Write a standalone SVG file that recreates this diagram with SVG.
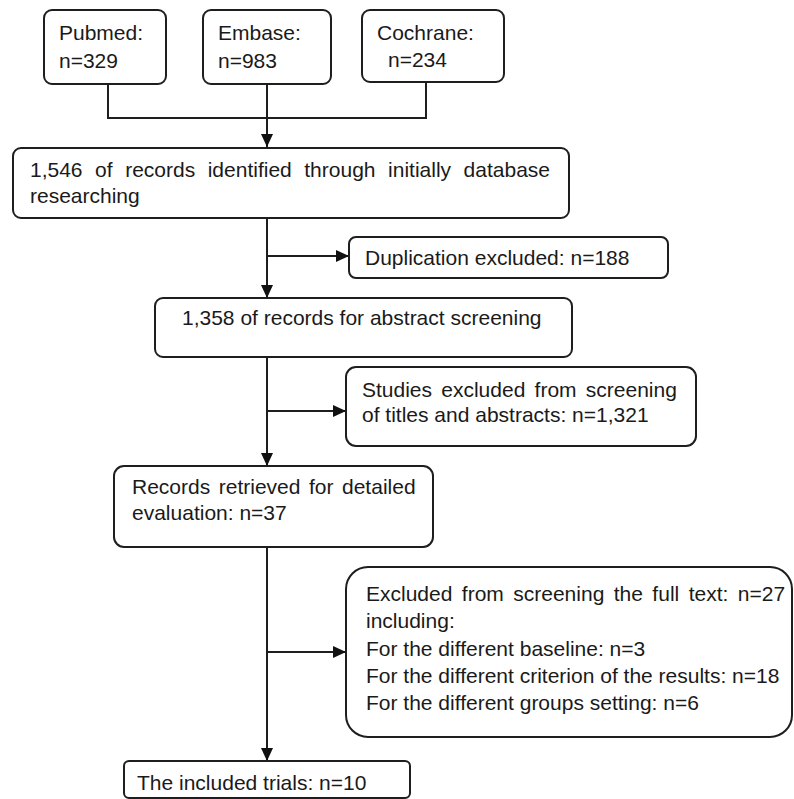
<svg xmlns="http://www.w3.org/2000/svg" width="794" height="799" viewBox="0 0 794 799">
<defs>
<style>
.box{fill:#fff;stroke:#1e1e1e;stroke-width:2}
.t{font-family:"Liberation Sans",Arial,sans-serif;font-size:21px;fill:#1a1a1a}
.ln{fill:none;stroke:#1e1e1e;stroke-width:2}
</style>
<marker id="ah" markerUnits="userSpaceOnUse" markerWidth="14" markerHeight="12" refX="13" refY="6" orient="auto">
<path d="M0,0 L13,6 L0,12 z" fill="#111"/>
</marker>
</defs>
<g id="connectors">
<path class="ln" d="M108,84 V118 H426 V82"/>
<path class="ln" d="M267,84 V147" marker-end="url(#ah)"/>
<path class="ln" d="M267,218 V298" marker-end="url(#ah)"/>
<path class="ln" d="M267,256 H349" marker-end="url(#ah)"/>
<path class="ln" d="M267,357 V466" marker-end="url(#ah)"/>
<path class="ln" d="M267,411 H346" marker-end="url(#ah)"/>
<path class="ln" d="M267,547 V761" marker-end="url(#ah)"/>
<path class="ln" d="M267,652 H346" marker-end="url(#ah)"/>
</g>
<g id="pubmed">
<rect class="box" x="44" y="10" width="122" height="74" rx="8"/>
<text class="t" x="59" y="40">Pubmed:</text>
<text class="t" x="59" y="68">n=329</text>
</g>
<g id="embase">
<rect class="box" x="203" y="10" width="128" height="74" rx="8"/>
<text class="t" x="218" y="40">Embase:</text>
<text class="t" x="218" y="68">n=983</text>
</g>
<g id="cochrane">
<rect class="box" x="362" y="10" width="142" height="72" rx="8"/>
<text class="t" x="377" y="40">Cochrane:</text>
<text class="t" x="388" y="67">n=234</text>
</g>
<g id="identified">
<rect class="box" x="13" y="148" width="556" height="70" rx="8"/>
<text class="t" x="30" y="177" word-spacing="6.7">1,546 of records identified through initially database</text>
<text class="t" x="30" y="203">researching</text>
</g>
<g id="duplication">
<rect class="box" x="349" y="237" width="319" height="41" rx="7"/>
<text class="t" x="365" y="265">Duplication excluded: n=188</text>
</g>
<g id="abstract-screening">
<rect class="box" x="155" y="298" width="417" height="59" rx="8"/>
<text class="t" x="182" y="325">1,358 of records for abstract screening</text>
</g>
<g id="excluded-abstracts">
<rect class="box" x="346" y="367" width="350" height="79" rx="10"/>
<text class="t" x="362" y="397" word-spacing="3.4">Studies excluded from screening</text>
<text class="t" x="362" y="422">of titles and abstracts: n=1,321</text>
</g>
<g id="retrieved">
<rect class="box" x="114" y="466" width="319" height="81" rx="10"/>
<text class="t" x="132" y="494" word-spacing="2.7">Records retrieved for detailed</text>
<text class="t" x="132" y="520">evaluation: n=37</text>
</g>
<g id="excluded-fulltext">
<rect class="box" x="346" y="567" width="446" height="170" rx="22"/>
<text class="t" x="366" y="601" word-spacing="3.6">Excluded from screening the full text: n=27</text>
<text class="t" x="366" y="628">including:</text>
<text class="t" x="366" y="656">For the different baseline: n=3</text>
<text class="t" x="366" y="683">For the different criterion of the results: n=18</text>
<text class="t" x="366" y="710">For the different groups setting: n=6</text>
</g>
<g id="included">
<rect class="box" x="124" y="761" width="286" height="37" rx="5"/>
<text class="t" x="137" y="790">The included trials: n=10</text>
</g>
</svg>
